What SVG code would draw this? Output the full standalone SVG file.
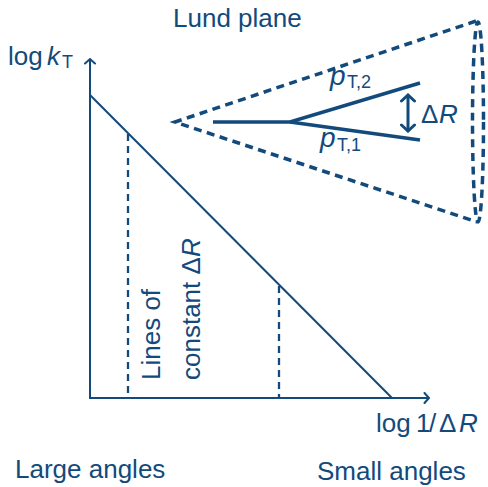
<svg xmlns="http://www.w3.org/2000/svg" width="488" height="487" viewBox="0 0 488 487">
<style>
text{font-family:"Liberation Sans",Arial,sans-serif;fill:#124a7c;font-size:26px}
.it{font-style:italic}
.sub{font-size:18px}
.ax{stroke:#124a7c;stroke-width:2;fill:none}
.dv{stroke:#124a7c;stroke-width:2.3;fill:none;stroke-dasharray:7 5}
.cone{stroke:#124a7c;stroke-width:3.5;fill:none;stroke-dasharray:8 5.5}
.jet{stroke:#124a7c;stroke-width:3.5;fill:none;stroke-linecap:butt}
</style>
<defs>
<marker id="ah" viewBox="-6 -6 8 12" markerWidth="8" markerHeight="12" markerUnits="userSpaceOnUse" orient="auto-start-reverse" refX="0" refY="0">
<path d="M-4.5,-5 L0,0 L-4.5,5" fill="none" stroke="#124a7c" stroke-width="2" stroke-linecap="round"/>
</marker>
<marker id="ah2" viewBox="-8 -8 10 16" markerWidth="10" markerHeight="16" markerUnits="userSpaceOnUse" orient="auto-start-reverse" refX="0" refY="0">
<path d="M-6,-6.5 L0,0 L-6,6.5" fill="none" stroke="#124a7c" stroke-width="3" stroke-linecap="round"/>
</marker>
</defs>
<g id="connectors">
<line class="ax" x1="90" y1="398" x2="90" y2="59" marker-end="url(#ah)"/>
<line class="ax" x1="89" y1="398" x2="429" y2="398" marker-end="url(#ah)"/>
<line class="ax" x1="90" y1="95" x2="392" y2="398"/>
<line class="dv" x1="128" y1="134" x2="128" y2="398"/>
<line class="dv" x1="279" y1="286" x2="279" y2="398"/>
</g>
<g id="cone">
<polyline class="cone" points="476,21 175,122 477,222"/>
<ellipse class="cone" cx="478" cy="122" rx="5.5" ry="100"/>
</g>
<g id="jet">
<polyline class="jet" points="213,122 290,122 420,83"/>
<line class="jet" x1="290" y1="122" x2="420" y2="140"/>
<line x1="408" y1="95" x2="408" y2="131" stroke="#124a7c" stroke-width="3" marker-start="url(#ah2)" marker-end="url(#ah2)"/>
</g>
<g id="labels">
<text x="173" y="27">Lund plane</text>
<text y="65"><tspan x="8">log</tspan><tspan x="47" class="it">k</tspan><tspan x="62" y="68" class="sub">T</tspan></text>
<text y="432"><tspan x="376">log</tspan><tspan x="416">1</tspan><tspan x="429">/</tspan><tspan x="439">Δ</tspan><tspan x="459" class="it">R</tspan></text>
<text x="15" y="478">Large angles</text>
<text x="317" y="480">Small angles</text>
<text y="123"><tspan x="421">Δ</tspan><tspan x="439" class="it">R</tspan></text>
<text x="330" y="85" class="it" style="font-size:28px">p</text><text x="347" y="88" class="sub">T,2</text>
<text x="320" y="147" class="it" style="font-size:28px">p</text><text x="337" y="151" class="sub">T,1</text>
<text transform="translate(160,380) rotate(-90)">Lines of</text>
<text transform="translate(200,380) rotate(-90)">constant Δ<tspan class="it">R</tspan></text>
</g>
</svg>
